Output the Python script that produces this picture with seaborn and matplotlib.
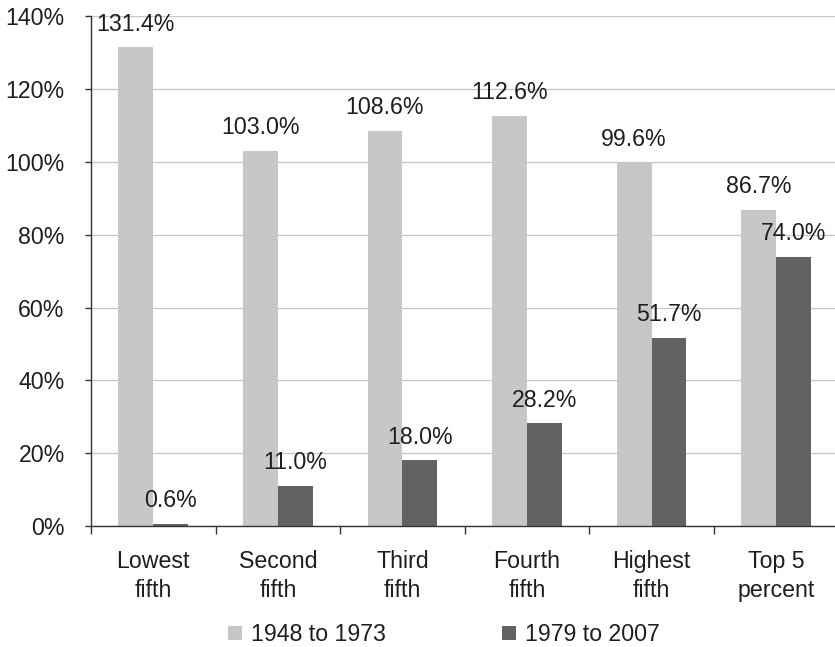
import matplotlib
matplotlib.use("Agg")
import matplotlib.pyplot as plt
from matplotlib.patches import Patch
import seaborn as sns
import pandas as pd

categories = ["Lowest\nfifth", "Second\nfifth", "Third\nfifth", "Fourth\nfifth",
              "Highest\nfifth", "Top 5\npercent"]
series_names = ["1948 to 1973", "1979 to 2007"]
growth_1948_1973 = [131.4, 103.0, 108.6, 112.6, 99.6, 86.7]
growth_1979_2007 = [0.6, 11.0, 18.0, 28.2, 51.7, 74.0]
y_ticks = [0, 20, 40, 60, 80, 100, 120, 140]

colors = ["#c6c7c9", "#626262"]
text_color = "#1e1e1e"
font_size = 16.7

df = pd.DataFrame({
    "group": categories * 2,
    "period": [series_names[0]] * len(categories) + [series_names[1]] * len(categories),
    "value": growth_1948_1973 + growth_1979_2007,
})

sns.set_theme(style="white")
plt.rcParams["font.family"] = ["Liberation Sans", "DejaVu Sans"]

fig = plt.figure(figsize=(8.35, 6.47), dpi=100)
ax = fig.add_axes([0.109, 0.187, 0.895, 0.788])

sns.barplot(data=df, x="group", y="value", hue="period", order=categories,
            hue_order=series_names, palette=colors, width=0.56, gap=0,
            saturation=1, legend=False, ax=ax, edgecolor="none", linewidth=0)

for cont in ax.containers:
    ax.bar_label(cont, labels=[f"{v:.1f}%" for v in cont.datavalues],
                 padding=8.5, fontsize=font_size, color=text_color)

ax.set_xlim(-0.5, len(categories) - 0.5)
ax.set_ylim(0, 140)
ax.set_yticks(y_ticks)
ax.set_yticklabels([f"{t}%" for t in y_ticks])
ax.yaxis.grid(True, color="#c9c9c9", linewidth=1.0)
ax.set_axisbelow(True)

ax.set_xticks(range(len(categories)))
ax.set_xticklabels(categories, linespacing=1.35)
ax.set_xticks([i - 0.5 for i in range(len(categories) + 1)], minor=True)
ax.tick_params(axis="x", which="major", length=0, pad=17, labelsize=font_size,
               labelcolor=text_color)
ax.tick_params(axis="x", which="minor", length=6, width=1, color="#333333",
               direction="out", bottom=True)
ax.tick_params(axis="y", which="major", length=4, width=1, color="#333333",
               direction="out", left=True, pad=15, labelsize=font_size,
               labelcolor=text_color)

ax.set_xlabel("")
ax.set_ylabel("")
for side in ["top", "right"]:
    ax.spines[side].set_visible(False)
for side in ["left", "bottom"]:
    ax.spines[side].set_color("#333333")
    ax.spines[side].set_linewidth(1.0)

handles = [Patch(facecolor=c, edgecolor="none") for c in colors]
fig.legend(handles, series_names, loc="center", bbox_to_anchor=(0.532, 0.019),
           ncol=2, frameon=False, fontsize=font_size, handlelength=0.6,
           handleheight=0.6, handletextpad=0.4, columnspacing=5.0,
           labelcolor=text_color)

fig.savefig("out.png", dpi=100, facecolor="white")
